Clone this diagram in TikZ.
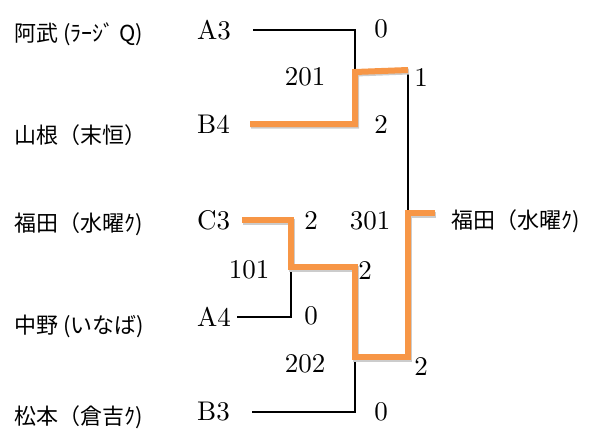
\documentclass[tikz,border=0pt]{standalone}
\usepackage{fontspec}
\setmainfont[Extension=.otf]{lmroman10-regular}
\newfontfamily\jp{Noto Sans CJK JP}
\usetikzlibrary{positioning}
\definecolor{winorange}{HTML}{F79646}
\begin{document}
\begin{tikzpicture}[x=1pt, y=-1pt,
        seed/.style={anchor=west, inner sep=0pt, font=\fontsize{27}{30}\selectfont},
        score/.style={inner sep=0pt, font=\fontsize{27}{30}\selectfont},
        team/.style={anchor=west, inner sep=0pt, font=\jp\fontsize{22}{24}\selectfont},
        lose/.style={draw=black, line width=1.3pt},
        win/.style={draw=winorange, line width=6pt,
          preaction={draw=black!20, line width=6pt, transform canvas={xshift=1pt, yshift=-1.5pt}}}]
        \useasboundingbox (0,0) rectangle (591,431);
        % teams
        \node[team] (abu) at (14,34) {阿武 (ﾗｰｼﾞ Q)};
        \node[team] (yamane) at (14,135) {山根（末恒）};
        \node[team] (fukuda) at (14,224) {福田（水曜ｸ)};
        \node[team] (nakano) at (14,326) {中野 (いなば)};
        \node[team] (matsumoto) at (14,417) {松本（倉吉ｸ)};
        \node[team] (champ) at (451,221) {福田（水曜ｸ)};
        % seeds
        \node[seed] (a3) at (197,30) {A3};
        \node[seed] (b4) at (197,124) {B4};
        \node[seed] (c3) at (197,220) {C3};
        \node[seed] (a4) at (197,317) {A4};
        \node[seed] (b3) at (197,412) {B3};
        % matches
        \node[score] (m201) at (305,77) {201};
        \node[score] (m101) at (249,270) {101};
        \node[score] (m202) at (305,364) {202};
        \node[score] (m301) at (370,221) {301};
        % scores
        \node[score] (sa3) at (381,29) {0};
        \node[score] (sb4) at (381,125) {2};
        \node[score] (sc3) at (311,221) {2};
        \node[score] (sa4) at (311,316) {0};
        \node[score] (sb3) at (381,412) {0};
        \node[score] (s101) at (365,271) {2};
        \node[score] (s201) at (421,78) {1};
        \node[score] (s202) at (421,367) {2};
        % junctions
        \coordinate (j201) at (355,72);
        \coordinate (j101) at (291,267);
        \coordinate (j202) at (355,357);
        \coordinate (j301) at (408,213);
        % losing lines
        \draw[lose] ([xshift=22pt]a3.east) -| (j201);
        \draw[lose] ([xshift=6pt]a4.east) -| (j101);
        \draw[lose] ([xshift=22pt]b3.east) -| (j202);
        \draw[lose] (408,71) -- (j301);
        % winning lines
        \draw[win] ([xshift=20pt]b4.east) -| (j201) -- (408,70);
        \draw[win] ([xshift=12pt]c3.east) -| (j101) -| (j202) -| (j301) -- (435,213);
\end{tikzpicture}
\end{document}
